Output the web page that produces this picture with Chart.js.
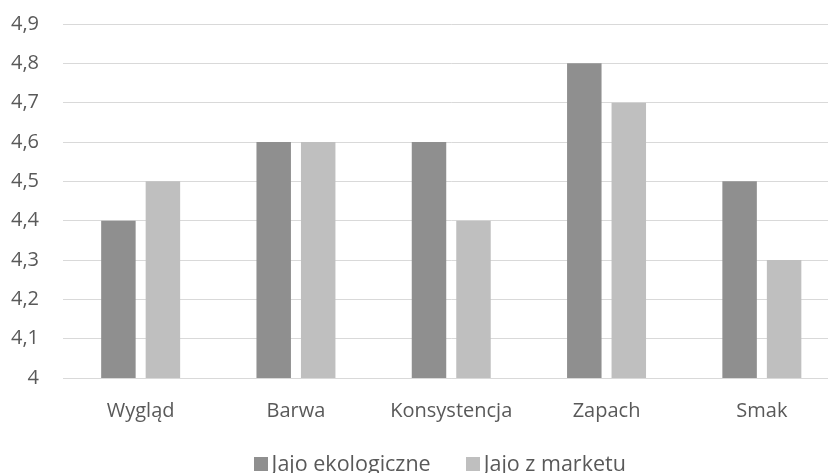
<!DOCTYPE html>
<html>
<head>
<meta charset="utf-8">
<script src="https://cdn.jsdelivr.net/npm/chart.js@4/dist/chart.umd.min.js"></script>
<style>
  html, body { margin: 0; padding: 0; background: #ffffff; overflow: hidden; }
  #wrap { width: 828px; height: 473px; position: relative; overflow: hidden; }
  #c { display: block; }
</style>
</head>
<body>
<div id="wrap"><canvas id="c" width="850" height="473"></canvas></div>
<script>
const categories = ['Wygląd', 'Barwa', 'Konsystencja', 'Zapach', 'Smak'];
const seriesNames = ['Jajo ekologiczne', 'Jajo z marketu'];
const ekologiczne = [4.4, 4.6, 4.6, 4.8, 4.5];
const market = [4.5, 4.6, 4.4, 4.7, 4.3];
const yTicks = [4, 4.1, 4.2, 4.3, 4.4, 4.5, 4.6, 4.7, 4.8, 4.9];

const fontFamily = "'Open Sans', 'Noto Sans', sans-serif";
const fontSize = 20;
const legendFontSize = 21.5;
const textColor = '#595959';
const seriesColors = ['#8f8f8f', '#bfbfbf'];

// Plot area bounds inside the canvas
const plotTop = 24, plotBottom = 378;

// Legend drawn below the axis: small square swatch followed closely by the label
const bottomLegend = {
  id: 'bottomLegend',
  afterDraw(chart) {
    const ctx = chart.ctx;
    const box = 14, gap = 4, spacing = 35;
    const baseline = 471;
    ctx.save();
    ctx.font = legendFontSize + 'px ' + fontFamily;
    ctx.textBaseline = 'alphabetic';
    ctx.textAlign = 'left';
    const items = chart.data.datasets.map(ds => ({
      text: ds.label, color: ds.backgroundColor, w: ctx.measureText(ds.label).width
    }));
    const total = items.reduce((s, it) => s + box + gap + it.w, 0) + spacing * (items.length - 1);
    let x = (chart.chartArea.left + chart.chartArea.right) / 2 - 11.5 - total / 2;
    items.forEach(it => {
      ctx.fillStyle = it.color;
      ctx.fillRect(Math.round(x), baseline - box, box, box);
      ctx.fillStyle = textColor;
      ctx.fillText(it.text, x + box + gap, baseline);
      x += box + gap + it.w + spacing;
    });
    ctx.restore();
  }
};

new Chart(document.getElementById('c'), {
  type: 'bar',
  data: {
    labels: categories,
    datasets: [
      { label: seriesNames[0], data: ekologiczne, backgroundColor: seriesColors[0],
        categoryPercentage: 0.573, barPercentage: 0.775 },
      { label: seriesNames[1], data: market, backgroundColor: seriesColors[1],
        categoryPercentage: 0.573, barPercentage: 0.775 }
    ]
  },
  plugins: [bottomLegend],
  options: {
    responsive: false,
    animation: false,
    layout: { padding: { left: 0, right: 10.5, top: plotTop, bottom: 0 } },
    plugins: {
      legend: { display: false },
      tooltip: { enabled: false }
    },
    scales: {
      x: {
        afterFit: (axis) => { axis.height = 473 - plotBottom; },
        grid: { display: false },
        border: { color: '#d9d9d9', width: 1 },
        ticks: { color: textColor, font: { family: fontFamily, size: fontSize }, padding: 13 }
      },
      y: {
        min: 4, max: 4.9,
        afterFit: (axis) => {
          axis.width = 63;
          axis.paddingTop = 0;
          axis.paddingBottom = 0;
        },
        afterBuildTicks: (axis) => { axis.ticks = yTicks.map(v => ({ value: v })); },
        grid: { color: '#d9d9d9', lineWidth: 1, drawTicks: false },
        border: { display: false },
        ticks: {
          color: textColor,
          font: { family: fontFamily, size: fontSize },
          padding: 24,
          callback: (v) => (Math.round(v * 10) / 10).toString().replace('.', ',')
        }
      }
    }
  }
});
</script>
</body>
</html>
